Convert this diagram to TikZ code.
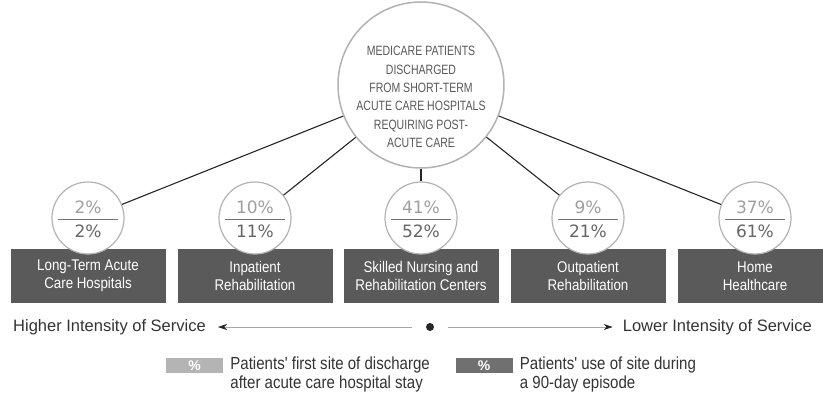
\documentclass[tikz,border=0pt]{standalone}
\usepackage{fontspec}
\setmainfont{Liberation Sans}
\newfontfamily\condfont{Liberation Sans}[FakeStretch=0.86]
\newfontfamily\capsfont{Liberation Sans}[FakeStretch=0.78]
\newfontfamily\pctfont{DejaVu Sans}
\usetikzlibrary{arrows.meta}
\definecolor{boxgray}{HTML}{5A5A5A}
\definecolor{lightkey}{HTML}{B4B4B4}
\definecolor{darkkey}{HTML}{707070}
\definecolor{inkgray}{HTML}{333333}

\begin{document}
\begin{tikzpicture}[x=1pt, y=-1pt,
    sitebox/.style={fill=boxgray, text=white, minimum width=155pt, minimum height=54pt, inner sep=0pt, align=center, font=\condfont\fontsize{15.5}{18}\selectfont},
    pctcircle/.style={circle, draw=gray!60, line width=1.2pt, fill=white, minimum size=72pt, inner sep=0pt},
    hubcircle/.style={circle, draw=gray!60, line width=1.5pt, fill=white, minimum size=166pt, inner sep=0pt},
    hubtext/.style={align=center, text=black!65, inner sep=0pt, font=\capsfont\fontsize{13.5}{18.4}\selectfont},
    pcttop/.style={text=gray!75, inner sep=0pt, font=\pctfont\fontsize{17}{17}\selectfont},
    pctbottom/.style={text=black!60, inner sep=0pt, font=\pctfont\fontsize{17}{17}\selectfont},
    link/.style={black!85, line width=1.1pt},
    scaletext/.style={text=inkgray, inner sep=0pt, font=\fontsize{16.5}{18}\selectfont},
    scalearrow/.style={gray!70, line width=0.7pt, -{Stealth[length=9pt, width=6pt, black!85]}},
    swatch/.style={text=white, minimum width=57pt, minimum height=15pt, inner sep=0pt, font=\bfseries\fontsize{14}{14}\selectfont},
    keytext/.style={text=inkgray, align=left, inner sep=0pt, font=\condfont\fontsize{17.5}{18.5}\selectfont}]
  \clip (0,0) rectangle (823,393);
  %%% central circle
  \node[hubcircle] (hub) at (421,85) {};
  \node[hubtext] (hubtxt) at (421,97) {MEDICARE PATIENTS\\DISCHARGED\\FROM SHORT-TERM\\ACUTE CARE HOSPITALS\\REQUIRING POST-\\ACUTE CARE};
  %%% sites of care with their shares
  \foreach \i/\x/\first/\used/\txt in {1/88/2/2/{Long-Term Acute\\Care Hospitals}, 2/255/10/11/{Inpatient\\Rehabilitation}, 3/421/41/52/{Skilled Nursing and\\Rehabilitation Centers}, 4/588/9/21/{Outpatient\\Rehabilitation}, 5/755/37/61/{Home\\Healthcare}}{
    \node[sitebox] (site\i) at (\x,276) {\txt};
    \node[pctcircle] (pc\i) at (\x,218) {};
    \node[pcttop] (first\i) at ([yshift=11]pc\i.center) {\first\%};
    \node[pctbottom] (used\i) at ([yshift=-13]pc\i.center) {\used\%};
    \draw[black!55, line width=0.8pt] ([xshift=-30,yshift=-1]pc\i.center) -- ([xshift=30,yshift=-1]pc\i.center);
    \draw[link] (hub) -- (pc\i);
  }
  %%% intensity scale
  \node[scaletext, anchor=west] (high) at (13,327) {Higher Intensity of Service};
  \node[scaletext, anchor=east] (low) at (812,327) {Lower Intensity of Service};
  \node[circle, fill=black!85, minimum size=8pt, inner sep=0pt] (dot) at (430,327) {};
  \draw[scalearrow] ([xshift=-14]dot.west) -- ([xshift=12]high.east);
  \draw[scalearrow] ([xshift=14]dot.east) -- ([xshift=-10]low.west);
  %%% key
  \node[swatch, fill=lightkey] (key1) at (194.5,365.5) {\%};
  \node[keytext, anchor=north west] (key1txt) at ([xshift=7,yshift=1]key1.north east) {Patients' first site of discharge\\after acute care hospital stay};
  \node[swatch, fill=darkkey] (key2) at (484,365.5) {\%};
  \node[keytext, anchor=north west] (key2txt) at ([xshift=7,yshift=1]key2.north east) {Patients' use of site during\\a 90-day episode};
\end{tikzpicture}
\end{document}
